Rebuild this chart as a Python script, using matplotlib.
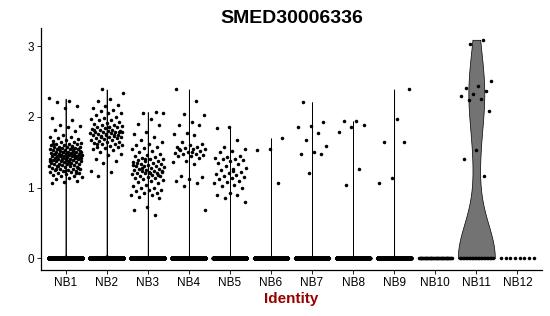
import numpy as np
import matplotlib
matplotlib.use("Agg")
import matplotlib.pyplot as plt

plt.rcParams['font.family'] = ['Liberation Sans', 'DejaVu Sans']

gene = "SMED30006336"
groups = ["NB1", "NB2", "NB3", "NB4", "NB5", "NB6", "NB7", "NB8", "NB9", "NB10", "NB11", "NB12"]

# cells with zero expression per cluster (estimated from the band at 0)
n_zero = [20000, 16000, 16000, 12000, 10000, 6000, 8000, 7000, 6000, 40, 23, 8]

# non-zero expression values
nb1 = [2.26, 2.23, 2.21, 2.15, 2.13, 1.98, 1.96, 1.89, 1.87, 1.86, 1.82, 1.80, 1.75, 1.72, 1.71, 1.70, 1.69, 1.68,
       1.66, 1.65, 1.64, 1.63, 1.62, 1.62, 1.61, 1.60, 1.60, 1.59, 1.58, 1.58, 1.57, 1.57, 1.56, 1.56, 1.55, 1.55,
       1.54, 1.54, 1.53, 1.53, 1.52, 1.52, 1.51, 1.51, 1.50, 1.50, 1.50, 1.49, 1.49, 1.48, 1.48, 1.48, 1.47, 1.47,
       1.46, 1.46, 1.46, 1.45, 1.45, 1.45, 1.44, 1.44, 1.44, 1.43, 1.43, 1.42, 1.42, 1.42, 1.41, 1.41, 1.40, 1.40,
       1.40, 1.39, 1.39, 1.38, 1.38, 1.37, 1.37, 1.36, 1.36, 1.35, 1.35, 1.34, 1.34, 1.33, 1.33, 1.32, 1.32, 1.31,
       1.30, 1.30, 1.29, 1.29, 1.28, 1.27, 1.27, 1.26, 1.25, 1.25, 1.24, 1.23, 1.22, 1.22, 1.21, 1.20, 1.19, 1.18,
       1.17, 1.16, 1.15, 1.13, 1.12, 1.10, 1.08, 1.07, 1.58, 1.55, 1.52, 1.49, 1.47, 1.44, 1.41, 1.38, 1.35, 1.31,
       1.28, 1.24, 1.61, 1.53, 1.46, 1.42, 1.37, 1.26, 1.20, 1.50]
nb2 = [2.39, 2.34, 2.25, 2.22, 2.17, 2.15, 2.12, 2.10, 2.08, 2.06, 2.05, 2.03, 2.00, 1.98, 1.97, 1.96, 1.95, 1.93,
       1.92, 1.90, 1.89, 1.88, 1.87, 1.86, 1.85, 1.85, 1.84, 1.83, 1.82, 1.81, 1.80, 1.80, 1.79, 1.78, 1.78, 1.77,
       1.77, 1.76, 1.75, 1.75, 1.74, 1.73, 1.73, 1.72, 1.71, 1.70, 1.70, 1.69, 1.68, 1.67, 1.66, 1.65, 1.64, 1.63,
       1.62, 1.61, 1.60, 1.59, 1.58, 1.57, 1.56, 1.55, 1.53, 1.51, 1.48, 1.46, 1.41, 1.37, 1.35, 1.24, 1.22, 1.17,
       1.78, 1.76, 1.82, 1.74, 1.72, 1.79, 1.85, 1.62]
nb3 = [2.07, 2.06, 2.05, 1.97, 1.90, 1.88, 1.78, 1.76, 1.72, 1.68, 1.65, 1.62, 1.60, 1.58, 1.56, 1.54, 1.52, 1.50,
       1.48, 1.46, 1.45, 1.43, 1.42, 1.41, 1.40, 1.39, 1.38, 1.37, 1.36, 1.35, 1.34, 1.33, 1.32, 1.31, 1.30, 1.30,
       1.29, 1.28, 1.27, 1.26, 1.25, 1.25, 1.24, 1.23, 1.22, 1.22, 1.21, 1.20, 1.20, 1.19, 1.18, 1.17, 1.16, 1.15,
       1.14, 1.13, 1.12, 1.11, 1.10, 1.08, 1.06, 1.04, 1.02, 1.00, 0.99, 0.97, 0.96, 0.95, 0.93, 0.92, 0.90, 0.89,
       0.87, 0.85, 0.73, 0.68, 0.61, 1.28, 1.24, 1.21, 1.35, 1.18, 1.40, 1.32]
nb4 = [2.39, 2.22, 2.04, 2.02, 1.93, 1.89, 1.89, 1.77, 1.76, 1.75, 1.65, 1.62, 1.60, 1.58, 1.57, 1.56, 1.55, 1.54,
       1.53, 1.52, 1.50, 1.49, 1.48, 1.47, 1.46, 1.45, 1.44, 1.42, 1.38, 1.36, 1.33, 1.16, 1.15, 1.12, 1.09, 1.06,
       1.02, 0.69, 1.51, 1.55]
nb5 = [1.86, 1.84, 1.68, 1.57, 1.55, 1.52, 1.50, 1.45, 1.43, 1.42, 1.41, 1.40, 1.39, 1.37, 1.35, 1.33, 1.30, 1.28,
       1.26, 1.25, 1.22, 1.20, 1.19, 1.18, 1.16, 1.15, 1.13, 1.12, 1.10, 1.08, 1.06, 1.04, 1.02, 1.00, 0.92, 0.90,
       0.89, 0.85, 0.80, 1.24]
nb6 = [1.70, 1.55, 1.53, 1.07]
nb7 = [2.21, 1.93, 1.87, 1.85, 1.77, 1.68, 1.59, 1.50, 1.48, 1.48, 1.20]
nb8 = [1.94, 1.94, 1.89, 1.86, 1.78, 1.27, 1.04]
nb9 = [2.39, 1.97, 1.65, 1.65, 1.14, 1.07]
nb10 = []
nb11 = [3.09, 3.03, 2.51, 2.44, 2.41, 2.36, 2.32, 2.29, 2.25, 2.24, 2.08, 1.53, 1.41, 1.16]
nb12 = []
nonzero = [nb1, nb2, nb3, nb4, nb5, nb6, nb7, nb8, nb9, nb10, nb11, nb12]


def bw_nrd0(x):
    hi = np.std(x, ddof=1)
    q75, q25 = np.percentile(x, [75, 25])
    lo = min(hi, (q75 - q25) / 1.34)
    if lo == 0:
        lo = hi if hi > 0 else 1.0
    return 0.9 * lo * len(x) ** -0.2


fig = plt.figure(figsize=(5.5, 3.16), dpi=100)
ax = fig.add_axes([0.0745, 0.1456, 0.911, 0.7654])

# violins (scale = width, trimmed), like ggplot geom_violin
for i, (nz, vals) in enumerate(zip(n_zero, nonzero)):
    x = np.concatenate([np.zeros(nz), np.array(vals, dtype=float)])
    if x.max() == x.min():
        continue
    bw = bw_nrd0(x)
    ys = np.linspace(x.min(), x.max(), 512)
    # zeros all sit on one spot, so their kernel sum is just nz * kernel
    vz = np.asarray(vals, dtype=float)
    dens = nz * np.exp(-0.5 * (ys / bw) ** 2)
    dens += np.exp(-0.5 * ((ys[:, None] - vz[None, :]) / bw) ** 2).sum(axis=1)
    w = dens / dens.max() * 0.45
    ax.fill_betweenx(ys, i - w, i + w, facecolor='#737373', edgecolor='black', linewidth=0.5, zorder=1)

# jittered points
for i, (nz, vals) in enumerate(zip(n_zero, nonzero)):
    zx = i + np.linspace(-0.4, 0.4, nz)
    ax.scatter(zx, np.zeros(nz), s=6.5, color='black', linewidths=0, zorder=2)
    if vals:
        k = np.arange(len(vals))
        off = ((k * 0.6180339887 + i * 0.37) % 1.0 - 0.5) * 0.8
        ax.scatter(i + off, vals, s=6.5, color='black', linewidths=0, zorder=2)

ax.set_xlim(-0.6, len(groups) - 0.4)
ax.set_ylim(-0.165, 3.255)
ax.set_xticks(range(len(groups)))
ax.set_xticklabels(groups)
ax.set_yticks([0, 1, 2, 3])
ax.tick_params(labelsize=8.5, length=3, width=0.6, pad=2, colors='black')
for s in ['top', 'right']:
    ax.spines[s].set_visible(False)
for s in ['left', 'bottom']:
    ax.spines[s].set_linewidth(0.9)

ax.set_xlabel("Identity", fontsize=11, fontweight='bold', color='#990000', labelpad=2)
ax.set_title(gene, fontsize=14, fontweight='bold', pad=4)

fig.savefig("out.png", dpi=100)
